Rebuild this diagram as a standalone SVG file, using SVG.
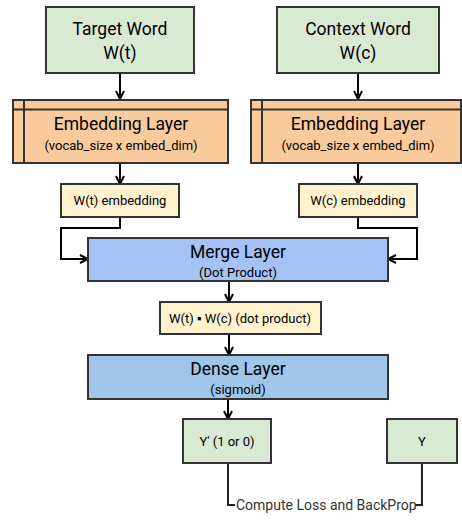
<svg xmlns="http://www.w3.org/2000/svg" width="462" height="522" viewBox="0 0 462 522">
<defs>
<marker id="ah" viewBox="0 0 10 10" refX="9" refY="5" markerWidth="10" markerHeight="10" markerUnits="userSpaceOnUse" orient="auto">
<path d="M1,1 L9,5 L1,9" fill="none" stroke="#000" stroke-width="2"/>
</marker>
<style>
.box{stroke:#333;stroke-width:2}
.green{fill:#d9ead3}
.orange{fill:#f9cb9c}
.yellow{fill:#fff2cc}
.blue{fill:#a4c2f4}
.dense{fill:#9fc5e8}
text{font-family:Roboto,"Liberation Sans",sans-serif;fill:#000;text-anchor:middle;font-weight:400}
.t1{font-size:17.5px}
.t2{font-size:13px}
.t3{font-size:13px}
.conn{fill:none;stroke:#000;stroke-width:2}
.loss{fill:none;stroke:#222;stroke-width:2}
.lbl{font-size:14px;fill:#333;text-anchor:start}
</style>
</defs>
<g id="connectors">
<path class="conn" d="M120,73 V99" marker-end="url(#ah)"/>
<path class="conn" d="M358,73 V99" marker-end="url(#ah)"/>
<path class="conn" d="M120,164 V184" marker-end="url(#ah)"/>
<path class="conn" d="M358,164 V184" marker-end="url(#ah)"/>
<path class="conn" d="M120,217 V228 H61 V259 H88" marker-end="url(#ah)"/>
<path class="conn" d="M358,217 V228 H417 V259 H388" marker-end="url(#ah)"/>
<path class="conn" d="M229,281 V302" marker-end="url(#ah)"/>
<path class="conn" d="M229,334 V355" marker-end="url(#ah)"/>
<path class="conn" d="M228,399 V419" marker-end="url(#ah)"/>
<path class="loss" d="M228,463 V505 H235"/>
<path class="loss" d="M422,463 V505 H415"/>
<text class="lbl" x="236" y="510">Compute Loss and BackProp</text>
</g>
<g id="target-word">
<rect class="box green" x="46" y="7" width="148" height="66"/>
<text class="t1" x="120" y="35">Target Word</text>
<text class="t1" x="120" y="59">W(t)</text>
</g>
<g id="context-word">
<rect class="box green" x="277" y="7" width="162" height="66"/>
<text class="t1" x="358" y="35">Context Word</text>
<text class="t1" x="358" y="59">W(c)</text>
</g>
<g id="embedding-t">
<rect class="box orange" x="13" y="100" width="215" height="63"/>
<path class="box" d="M24,100 V163 M13,109.5 H228" fill="none"/>
<text class="t1" x="121" y="130">Embedding Layer</text>
<text class="t2" x="121" y="150">(vocab_size x embed_dim)</text>
</g>
<g id="embedding-c">
<rect class="box orange" x="251" y="100" width="210" height="63"/>
<path class="box" d="M262,100 V163 M251,109.5 H461" fill="none"/>
<text class="t1" x="358" y="130">Embedding Layer</text>
<text class="t2" x="358" y="150">(vocab_size x embed_dim)</text>
</g>
<g id="wt-embedding">
<rect class="box yellow" x="61" y="184" width="118" height="33"/>
<text class="t3" x="120" y="205">W(t) embedding</text>
</g>
<g id="wc-embedding">
<rect class="box yellow" x="299" y="184" width="118" height="33"/>
<text class="t3" x="358" y="205">W(c) embedding</text>
</g>
<g id="merge-layer">
<rect class="box blue" x="88" y="238" width="300" height="43"/>
<text class="t1" x="238" y="258">Merge Layer</text>
<text class="t2" x="238" y="277">(Dot Product)</text>
</g>
<g id="dot-product">
<rect class="box yellow" x="160" y="302" width="161" height="32"/>
<text class="t3" x="240" y="323">W(t) ▪ W(c) (dot product)</text>
</g>
<g id="dense-layer">
<rect class="box dense" x="88" y="355" width="300" height="44"/>
<text class="t1" x="238" y="375">Dense Layer</text>
<text class="t2" x="238" y="394">(sigmoid)</text>
</g>
<g id="y-pred">
<rect class="box green" x="183" y="419" width="88" height="44"/>
<text class="t3" x="227" y="446">Y' (1 or 0)</text>
</g>
<g id="y-true">
<rect class="box green" x="387" y="419" width="70" height="44"/>
<text class="t3" x="422" y="446">Y</text>
</g>
</svg>
